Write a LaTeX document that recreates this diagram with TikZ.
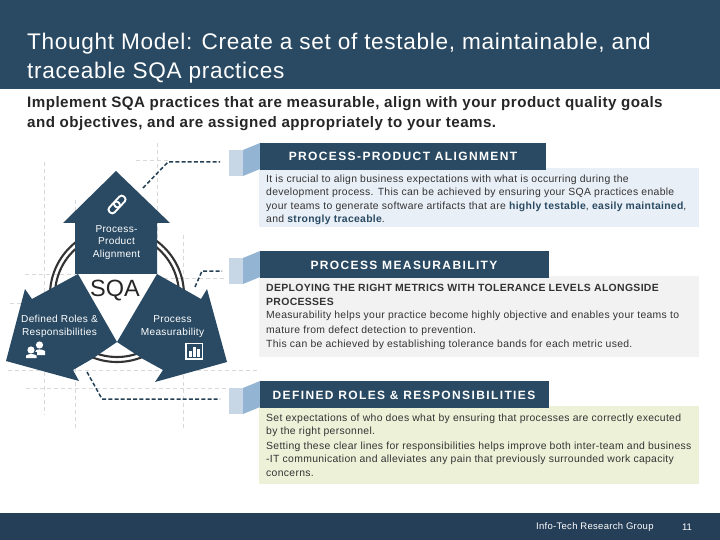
\documentclass[tikz,border=0pt]{standalone}
\usepackage{fontspec}
\setmainfont{Liberation Sans}
\newfontfamily\spc[LetterSpace=3]{Liberation Sans}
\newfontfamily\spw[LetterSpace=11.5]{Liberation Sans}
\usetikzlibrary{calc}
\definecolor{navy}{HTML}{2A4A63}
\definecolor{foot}{HTML}{263F58}
\definecolor{lightb}{HTML}{C8D7E5}
\definecolor{midb}{HTML}{93B4D2}
\definecolor{pbl}{HTML}{E9EFF6}
\definecolor{pgr}{HTML}{F2F2F2}
\definecolor{pgn}{HTML}{EDF1D8}
\definecolor{ring}{HTML}{333333}
\definecolor{gridc}{HTML}{D9D9D9}
\tikzset{
 x=1pt,y=-1pt,
 gridl/.style={draw=gridc,line width=.8pt,dash pattern=on 4pt off 3pt},
 conn/.style={draw=navy!85!black,line width=1.5pt,dash pattern=on 4pt off 2.2pt},
 arrowshape/.style={fill=navy,draw=none},
 lab/.style={text=white,align=center,font=\spc\fontsize{10.1}{12.5}\selectfont,inner sep=0pt},
 head/.style={text=white,font=\bfseries\spw\fontsize{12}{14}\selectfont,inner sep=0pt},
 body/.style={text=black!80,anchor=north west,align=left,inner sep=0pt,font=\spc\fontsize{10.4}{13.5}\selectfont},
 ringl/.style={draw=ring,line width=2.1pt},
}
\newcommand{\banner}[4]{% y, right x, panel bottom, panel colour
 \fill[#4] (259,{#1+25}) rectangle (699,#3);
 \fill[lightb] (229,{#1+7}) rectangle (243,{#1+33});
 \fill[midb] (243,{#1+7}) -- (260,#1) -- (260,{#1+26}) -- (243,{#1+33}) -- cycle;
 \fill[navy] (260,#1) rectangle (#2,{#1+27});
}
\newcommand{\hb}[1]{{\bfseries\color{navy}#1}}
\begin{document}
\begin{tikzpicture}
\useasboundingbox (0,0) rectangle (720,540);
\fill[white] (0,0) rectangle (720,540);
% header, footer
\fill[navy] (0,0) rectangle (720,89);
\fill[foot] (0,513) rectangle (720,540);
\node[anchor=north west,inner sep=0pt,text=white,align=left,font=\spc\fontsize{22.6}{29}\selectfont] (title) at (27,32.5)
 {Thought Model: Create a set of testable, maintainable, and\\traceable SQA practices};
\node[anchor=north west,inner sep=0pt,text=black!85,align=left,font=\bfseries\spc\fontsize{15.15}{20}\selectfont] (sub) at (27,96)
 {Implement SQA practices that are measurable, align with your product quality goals\\and objectives, and are assigned appropriately to your teams.};
% guides
\draw[gridl] (44,162) -- (44,415);
\draw[gridl] (75,200) -- (75,430);
\draw[gridl] (157,143) -- (157,240);
\draw[gridl] (183,235) -- (183,430);
\draw[gridl] (136,160) -- (168,160);
\draw[gridl] (25,274) -- (75,274);
\draw[gridl] (157,278) -- (226,278);
\draw[gridl] (10,303) -- (40,303);
\draw[gridl] (8,370) -- (260,370);
\draw[gridl] (26,388) -- (230,388);
% banners
\banner{143}{546}{227}{pbl}
\banner{251}{549}{357}{pgr}
\banner{381}{549}{484}{pgn}
\node[head] (h1) at (403,156.5) {PROCESS-PRODUCT ALIGNMENT};
\node[head] (h2) at (404,265) {PROCESS MEASURABILITY};
\node[head] (h3) at (404,395) {DEFINED ROLES \& RESPONSIBILITIES};
\node[body] (b1) at (266,174.5) {It is crucial to align business expectations with what is occurring during the\\development process. This can be achieved by ensuring your SQA practices enable\\your teams to generate software artifacts that are \hb{highly testable}, \hb{easily maintained},\\and \hb{strongly traceable}.};
\node[body,font=\bfseries\spc\fontsize{10.45}{13.5}\selectfont] (b2a) at (266,284.5) {DEPLOYING THE RIGHT METRICS WITH TOLERANCE LEVELS ALONGSIDE\\PROCESSES};
\node[body,font=\spc\fontsize{10.4}{14.5}\selectfont] (b2b) at (266,311) {Measurability helps your practice become highly objective and enables your teams to\\mature from defect detection to prevention.\\This can be achieved by establishing tolerance bands for each metric used.};
\node[body] (b3) at (266,413.5) {Set expectations of who does what by ensuring that processes are correctly executed\\by the right personnel.\\[0.8pt]Setting these clear lines for responsibilities helps improve both inter-team and business\\-IT communication and alleviates any pain that previously surrounded work capacity\\concerns.};
\node[anchor=west,inner sep=0pt,text=white,font=\spc\fontsize{9.5}{10}\selectfont] (f1) at (536,527.5) {Info-Tech Research Group};
\node[anchor=center,inner sep=0pt,text=white,font=\fontsize{9.5}{10}\selectfont] (f2) at (687,527.5) {11};
% rings
\coordinate (cen) at (117,295);
\draw[ringl] (cen) circle (67);
\draw[ringl] (cen) circle (62);
% arrows
\fill[arrowshape] (116,171) -- (170,223) -- (157,223) -- (157,274) -- (75,274) -- (75,223) -- (63,223) -- cycle;
\fill[white] (78,274) -- (157,274) -- (117,342) -- cycle;
\fill[arrowshape] (78,274) -- (117,342) -- (92,359) -- (73,370) -- (79,381) -- (6,361) -- (25,289) -- (32,299) -- cycle;
\fill[arrowshape] (157,274) -- (117,342) -- (143,359) -- (163,370) -- (155,382) -- (227,362) -- (207,289) -- (201,299) -- cycle;
\node[lab] (a1) at (116.5,242.5) {Process-\\Product\\Alignment};
\node[lab] (a2) at (59.5,326.5) {Defined Roles \&\\Responsibilities};
\node[lab] (a3) at (172.5,326.5) {Process\\Measurability};
\node[inner sep=0pt,text=black!85,font=\fontsize{23.5}{25}\selectfont] (sqa) at (115,291) {SQA};
% connectors
\coordinate (c1a) at (143,188); \coordinate (c1b) at (168,162); \coordinate (c1c) at (220,162);
\coordinate (c2a) at (195,287); \coordinate (c2b) at (202,271); \coordinate (c2c) at (222,271);
\coordinate (c3a) at (87,372); \coordinate (c3b) at (102,399); \coordinate (c3c) at (220,399);
\draw[conn] (c1a) -- (c1b) -- (c1c);
\draw[conn] (c2a) -- (c2b) -- (c2c);
\draw[conn] (c3a) -- (c3b) -- (c3c);
% link icon
\begin{scope}[shift={(117,204.5)},rotate=47]
 \draw[white,line width=1.9pt,rounded corners=3pt] (-10.5,-3.6) rectangle (2.5,3.6);
 \draw[white,line width=1.9pt,rounded corners=3pt] (-2.5,-3.6) rectangle (10.5,3.6);
\end{scope}
% people icon
\fill[white] (39.5,345) circle (3.6);
\fill[white] (34,355) -- (34,351) to[bend left=30] (45,351) -- (45,355) -- cycle;
\fill[navy] (31,350) circle (5);
\fill[navy] (24.5,358.5) rectangle (37,352);
\fill[white] (31,350) circle (3.6);
\fill[white] (26,358) -- (26,355.5) to[bend left=30] (36.5,355.5) -- (36.5,358) -- cycle;
% chart icon
\draw[white,line width=1.7pt] (186,343.5) rectangle (202.5,359);
\fill[white] (189.3,351) rectangle (191.7,356.5);
\fill[white] (193,347) rectangle (195.6,356.5);
\fill[white] (197,349) rectangle (199.6,356.5);
\end{tikzpicture}
\end{document}
